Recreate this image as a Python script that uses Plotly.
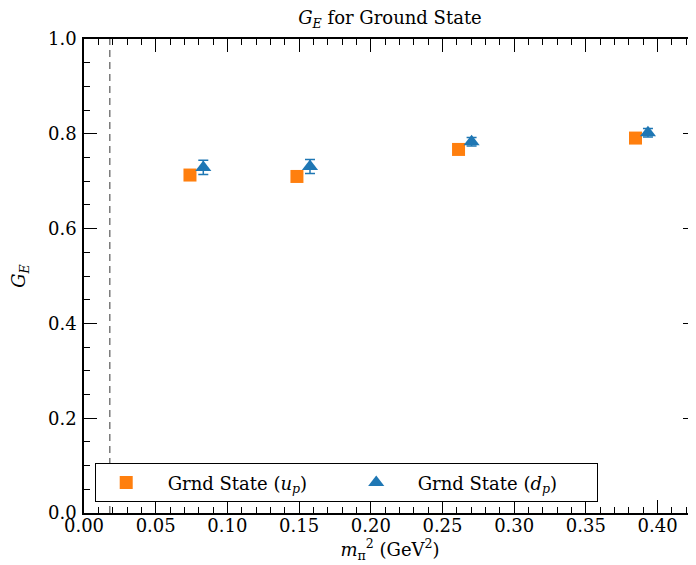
import plotly.graph_objects as go

# Data
x_up = [0.0739, 0.1485, 0.2612, 0.3846]
y_up = [0.713, 0.710, 0.767, 0.791]
err_up = [0.008, 0.008, 0.008, 0.008]

x_dp = [0.0832, 0.1576, 0.2703, 0.3933]
y_dp = [0.729, 0.731, 0.783, 0.802]
err_dp = [0.015, 0.015, 0.009, 0.009]

phys_mpi2 = 0.018
x_ticks = [0.00, 0.05, 0.10, 0.15, 0.20, 0.25, 0.30, 0.35, 0.40]
y_ticks = [0.0, 0.2, 0.4, 0.6, 0.8, 1.0]
x_range = [0.0, 0.4268]
y_range = [0.0, 1.0]

orange = "#ff7f0e"
blue = "#1f77b4"
FONT = "DejaVu Serif"
FS = 18

# page body has an 8px default margin, so the figure is shrunk to fit the window
OFF = 8
W, H = 696 - OFF, 565 - OFF

fig = go.Figure()

fig.add_trace(go.Scatter(
    x=x_up, y=y_up, mode="markers",
    name="\u00a0\u00a0Grnd State (<i>u</i><sub><i>p</i></sub>)",
    marker=dict(symbol="square", size=13, color=orange),
    error_y=dict(type="data", array=err_up, color=orange, thickness=1.5, width=5),
))
fig.add_trace(go.Scatter(
    x=x_dp, y=y_dp, mode="markers",
    name="\u00a0\u00a0Grnd State (<i>d</i><sub><i>p</i></sub>)",
    marker=dict(symbol="triangle-up", size=14, color=blue),
    error_y=dict(type="data", array=err_dp, color=blue, thickness=1.5, width=5),
))
# invisible trace to activate the right-hand tick axis
fig.add_trace(go.Scatter(x=[x_range[0]], y=[y_range[0]], yaxis="y2", mode="markers",
                         marker=dict(opacity=0), showlegend=False, hoverinfo="skip"))

fig.add_shape(type="line", xref="x", yref="paper", x0=phys_mpi2, x1=phys_mpi2, y0=0, y1=1,
              line=dict(color="#666666", width=1.3, dash="7px,5px"), layer="below")

axis_common = dict(
    showgrid=False, zeroline=False, ticks="inside", ticklen=13, tickwidth=1.3,
    tickcolor="black", tickfont=dict(family=FONT, size=FS, color="black"),
)

fig.update_layout(
    width=W, height=H,
    margin=dict(l=84 - OFF, r=0, t=39 - OFF, b=52, autoexpand=False),
    plot_bgcolor="white", paper_bgcolor="white",
    font=dict(family=FONT, size=FS, color="black"),
    title=dict(text="<i>G</i><sub><i>E</i></sub> for Ground State", x=0.5, xref="paper",
               y=1 - (18 - OFF) / H, yref="container", yanchor="middle",
               font=dict(family=FONT, size=FS, color="black")),
    xaxis=dict(range=x_range, tickvals=x_ticks, ticktext=[f"{v:.2f}" for v in x_ticks],
               showline=True, linecolor="black", linewidth=1.5, mirror="ticks",
               minor=dict(dtick=0.01, ticks="inside", ticklen=6, tickwidth=1.2, tickcolor="black"),
               title=dict(text="<i>m</i><sub>π</sub><sup>2</sup> (GeV<sup>2</sup>)",
                          font=dict(family=FONT, size=FS), standoff=2),
               ticklabelstandoff=-4, automargin=False,
               **axis_common),
    yaxis=dict(range=y_range, tickvals=y_ticks, ticktext=[f"{v:.1f}" for v in y_ticks],
               showline=True, linecolor="black", linewidth=1.5,
               minor=dict(dtick=0.05, ticks="inside", ticklen=6, tickwidth=1.2, tickcolor="black"),
               title=dict(text="<i>G</i><sub><i>E</i></sub>", font=dict(family=FONT, size=FS), standoff=20),
               ticklabelstandoff=2, automargin=False,
               **axis_common),
    yaxis2=dict(range=y_range, overlaying="y", side="right", anchor="x", tickvals=y_ticks,
                showticklabels=False, showline=False, showgrid=False, zeroline=False,
                ticks="inside", ticklen=13, tickwidth=1.3, tickcolor="black",
                minor=dict(dtick=0.05, ticks="inside", ticklen=6, tickwidth=1.2, tickcolor="black")),
    legend=dict(orientation="h", x=0.018, y=0.023, xanchor="left", yanchor="bottom",
                bordercolor="black", borderwidth=1.2, bgcolor="white",
                font=dict(family=FONT, size=FS, color="black"),
                entrywidth=185, itemwidth=50),
    showlegend=True,
)

fig.write_html("out.html")
